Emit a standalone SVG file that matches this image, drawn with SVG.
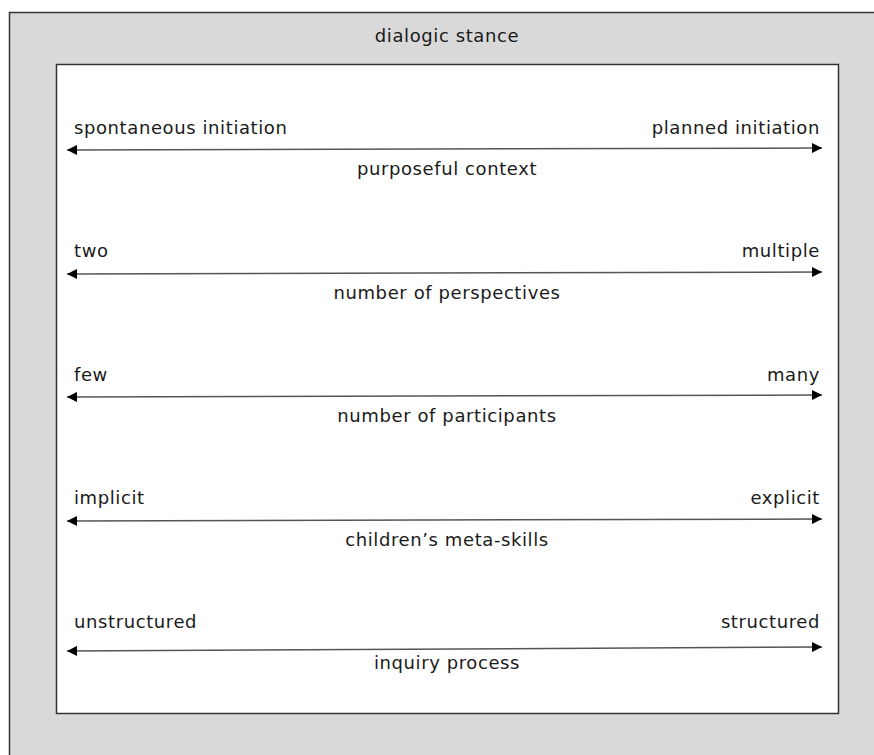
<svg xmlns="http://www.w3.org/2000/svg" width="874" height="755" viewBox="0 0 874 755">
<defs>
<marker id="ah" viewBox="0 0 10 10" refX="10" refY="5" markerWidth="12" markerHeight="10" markerUnits="userSpaceOnUse" orient="auto-start-reverse">
<path d="M0,0 L10,5 L0,10 z" fill="#000"/>
</marker>
<style>
text{font-family:"DejaVu Sans","Liberation Sans",sans-serif;font-size:18px;letter-spacing:0.6px;fill:#1a1a1a}
.l{text-anchor:start}.r{text-anchor:end}.c{text-anchor:middle}
.ax{stroke:#555;stroke-width:1.5;fill:none;marker-start:url(#ah);marker-end:url(#ah)}
</style>
</defs>
<rect width="874" height="755" fill="#fff"/>
<g id="outer">
<rect x="9.5" y="12.5" width="880" height="760" fill="#d9d9d9" stroke="#333" stroke-width="1.5"/>
<text class="c" x="447" y="42">dialogic stance</text>
</g>
<g id="inner">
<rect x="56.5" y="64.5" width="782" height="649" fill="#fff" stroke="#333" stroke-width="1.5"/>
</g>
<g id="connectors">
<line class="ax" x1="67" y1="150" x2="822" y2="148"/>
<line class="ax" x1="67" y1="274" x2="822" y2="272"/>
<line class="ax" x1="67" y1="397" x2="822" y2="395"/>
<line class="ax" x1="67" y1="521" x2="822" y2="519"/>
<line class="ax" x1="67" y1="651" x2="822" y2="647"/>
</g>
<g id="row1">
<text class="l" x="74" y="134">spontaneous initiation</text>
<text class="r" x="820" y="134">planned initiation</text>
<text class="c" x="447" y="175">purposeful context</text>
</g>
<g id="row2">
<text class="l" x="74" y="257">two</text>
<text class="r" x="820" y="257">multiple</text>
<text class="c" x="447" y="299">number of perspectives</text>
</g>
<g id="row3">
<text class="l" x="74" y="381">few</text>
<text class="r" x="820" y="381">many</text>
<text class="c" x="447" y="422">number of participants</text>
</g>
<g id="row4">
<text class="l" x="74" y="504">implicit</text>
<text class="r" x="820" y="504">explicit</text>
<text class="c" x="447" y="546">children’s meta-skills</text>
</g>
<g id="row5">
<text class="l" x="74" y="628">unstructured</text>
<text class="r" x="820" y="628">structured</text>
<text class="c" x="447" y="669">inquiry process</text>
</g>
</svg>
